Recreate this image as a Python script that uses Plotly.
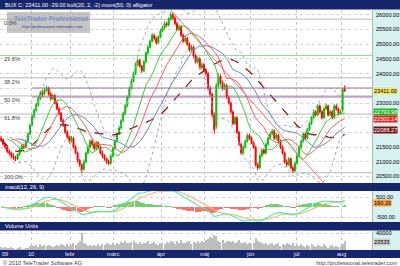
import numpy as np
import pandas as pd
import plotly.graph_objects as go

W, H = 400, 266

# ---------------- data ----------------
month_labels = ["09", "10", "febr", "márc", "ápr", "máj", "jún", "júl", "aug"]
month_days = [15, 19, 21, 23, 21, 22, 22, 22, 2]

opens = [
    21800, 21750, 21600, 21500, 21350, 21300, 21200, 21150, 21100, 21250, 21400, 21550, 21500, 21700, 21950,
    22250, 22550, 22750, 22950, 23150, 23350, 23300, 23450, 23500, 23300, 23150, 23250, 23000, 22800, 22650, 22400, 22250, 22000, 21850,
    21700, 21800, 21500, 21300, 21050, 20900, 20750, 21000, 21300, 21500, 21700, 21600, 21450, 21650, 21500, 21300, 21200, 21100, 21000, 20950, 21200,
    21450, 21700, 21950, 22150, 22400, 22650, 22900, 23200, 23500, 23750, 24000, 24300, 24450, 24250, 24100, 24400, 24700, 24900, 25100, 25300, 25200, 25050, 25250,
    25450, 25550, 25700, 25650, 25850, 26000, 25900, 25700, 25500, 25600, 25300, 25100, 25200, 25000, 24800, 24900, 24600, 24400, 24500, 24200, 24300,
    24100, 24000, 23500, 23300, 22600, 22200, 23600, 23900, 23700, 23500, 23600, 23200, 23000, 22700, 22300, 22500, 22000, 21600, 21300, 21500, 21700, 21900,
    21800, 21650, 21500, 20900, 20800, 21200, 21400, 21300, 21600, 21800, 21950, 22050, 21800, 21900, 21700, 21500, 21300, 21000, 20900, 21100, 20800, 20700,
    20950, 21200, 21500, 21700, 21950, 21800, 22100, 22300, 22500, 22700, 22600, 22900, 22700, 22500, 22800, 22900, 22600, 22700, 22500, 22900, 22800, 22650,
    22750, 23500,
]
highs = [
    21880, 21800, 21650, 21560, 21420, 21350, 21280, 21200, 21300, 21460, 21600, 21620, 21760, 22000, 22300,
    22620, 22820, 23020, 23250, 23420, 23450, 23520, 23600, 23560, 23380, 23320, 23300, 23080, 22880, 22700, 22480, 22300, 22080, 21900,
    21880, 21850, 21560, 21350, 21100, 20950, 21080, 21350, 21580, 21760, 21780, 21650, 21720, 21700, 21550, 21380, 21260, 21150, 21080, 21260, 21500,
    21760, 22000, 22220, 22460, 22700, 22980, 23260, 23560, 23820, 24080, 24380, 24520, 24500, 24300, 24460, 24760, 24980, 25160, 25380, 25360, 25260, 25300, 25520,
    25620, 25780, 25760, 25920, 26100, 26060, 25950, 25760, 25680, 25650, 25360, 25280, 25250, 25060, 24980, 24950, 24660, 24580, 24560, 24380, 24360,
    24180, 24060, 23580, 23350, 22680, 23680, 24000, 23980, 23760, 23680, 23650, 23260, 23050, 22750, 22560, 22550, 22060, 21650, 21560, 21760, 21960, 21960,
    21860, 21700, 21550, 20980, 21260, 21460, 21460, 21660, 21860, 22020, 22120, 22100, 21980, 21950, 21760, 21560, 21350, 21080, 21160, 21150, 20880, 21020,
    21260, 21560, 21760, 22000, 22010, 22160, 22360, 22560, 22780, 22760, 22960, 22950, 22760, 22860, 22980, 22950, 22780, 22760, 22960, 22960, 22850, 22780,
    23500, 23600,
]
lows = [
    21680, 21550, 21420, 21300, 21220, 21120, 21060, 21020, 21050, 21200, 21350, 21430, 21460, 21650, 21900,
    22200, 22480, 22700, 22880, 23100, 23200, 23250, 23380, 23250, 23080, 23100, 22950, 22750, 22580, 22350, 22180, 21950, 21780, 21620,
    21650, 21450, 21250, 20980, 20820, 20620, 20700, 20950, 21250, 21450, 21520, 21380, 21400, 21430, 21250, 21120, 21040, 20930, 20880, 20900, 21150,
    21400, 21650, 21900, 22100, 22350, 22600, 22850, 23150, 23450, 23700, 23950, 24250, 24200, 24020, 24050, 24350, 24650, 24850, 25050, 25120, 24980, 25000, 25200,
    25400, 25500, 25580, 25600, 25800, 25820, 25640, 25440, 25450, 25250, 25040, 25050, 24940, 24740, 24750, 24540, 24340, 24350, 24140, 24150, 24040,
    23920, 23420, 23220, 22520, 21950, 22120, 23520, 23640, 23420, 23440, 23140, 22940, 22640, 22240, 22240, 21940, 21540, 21240, 21250, 21450, 21650, 21740,
    21600, 21440, 20840, 20720, 20750, 21150, 21240, 21250, 21550, 21750, 21900, 21740, 21750, 21640, 21440, 21240, 20940, 20820, 20850, 20740, 20620, 20650,
    20900, 21150, 21450, 21650, 21740, 21750, 22050, 22250, 22450, 22540, 22550, 22640, 22440, 22450, 22750, 22540, 22550, 22440, 22450, 22740, 22580, 22600,
    22700, 23380,
]
closes = [
    21750, 21600, 21500, 21350, 21300, 21200, 21150, 21100, 21250, 21400, 21550, 21500, 21700, 21950, 22250,
    22550, 22750, 22950, 23150, 23350, 23300, 23450, 23500, 23300, 23150, 23250, 23000, 22800, 22650, 22400, 22250, 22000, 21850, 21700,
    21800, 21500, 21300, 21050, 20900, 20750, 21000, 21300, 21500, 21700, 21600, 21450, 21650, 21500, 21300, 21200, 21100, 21000, 20950, 21200, 21450,
    21700, 21950, 22150, 22400, 22650, 22900, 23200, 23500, 23750, 24000, 24300, 24450, 24250, 24100, 24400, 24700, 24900, 25100, 25300, 25200, 25050, 25250, 25450,
    25550, 25700, 25650, 25850, 26000, 25900, 25700, 25500, 25600, 25300, 25100, 25200, 25000, 24800, 24900, 24600, 24400, 24500, 24200, 24300, 24100,
    24000, 23500, 23300, 22600, 22100, 23600, 23900, 23700, 23500, 23600, 23200, 23000, 22700, 22300, 22500, 22000, 21600, 21300, 21500, 21700, 21900, 21800,
    21650, 21500, 20900, 20800, 21200, 21400, 21300, 21600, 21800, 21950, 22050, 21800, 21900, 21700, 21500, 21300, 21000, 20900, 21100, 20800, 20700, 20950,
    21200, 21500, 21700, 21950, 21800, 22100, 22300, 22500, 22700, 22600, 22900, 22700, 22500, 22800, 22900, 22600, 22700, 22500, 22900, 22800, 22650, 22700,
    23450, 23411,
]
volumes = [
    8000, 6000, 9000, 7000, 5000, 8000, 6000, 4000, 6000, 8000, 4000, 3000, 5000, 7000, 10000,
    12000, 10000, 14000, 9000, 15000, 11000, 13000, 10000, 14000, 12000, 8000, 11000, 14000, 11000, 16000, 13000, 10000, 15000, 12000,
    14000, 17000, 13000, 19000, 22000, 42000, 18000, 15000, 12000, 14000, 10000, 13000, 11000, 15000, 12000, 16000, 14000, 18000, 15000, 13000, 17000,
    14000, 18000, 16000, 20000, 17000, 22000, 19000, 17000, 21000, 24000, 18000, 16000, 20000, 15000, 17000, 19000, 22000, 16000, 18000, 20000, 16000, 14000, 17000,
    19000, 15000, 21000, 18000, 23000, 20000, 16000, 22000, 18000, 25000, 19000, 17000, 21000, 23000, 16000, 20000, 18000, 22000, 19000, 24000, 21000,
    25000, 28000, 33000, 30000, 38000, 35000, 24000, 21000, 26000, 19000, 22000, 24000, 20000, 23000, 18000, 21000, 26000, 19000, 17000, 20000, 15000, 18000,
    16000, 19000, 30000, 24000, 20000, 17000, 15000, 19000, 14000, 16000, 18000, 13000, 15000, 17000, 12000, 16000, 14000, 19000, 15000, 13000, 17000, 11000,
    13000, 10000, 15000, 12000, 9000, 14000, 11000, 16000, 10000, 8000, 13000, 12000, 9000, 15000, 11000, 7000, 10000, 14000, 8000, 12000, 9000, 11000,
    15000, 23535,
]

price_ticks = [20500, 21000, 21500, 22000, 22500, 23000, 23500, 24000, 24500, 25000, 25500, 26000]
hidden_ticks = [22000, 22500, 23500]          # covered by the value boxes in the original
fib_high = 25850
fib_low = 20630
fib_levels = [0.0, 23.6, 38.2, 50.0, 61.8, 100.0]
purple_levels = [23510, 23204]
purple_start_day = 15.5
trend_days = [82.4, 156.4]
trend_prices = [26170, 20280]

title_text = "BUX C: 23411.00 -39.00 boll(20, 2, -2) movs(50, 0) alligator"
last_price = 23411.00
lips_last = 22793.98
teeth_last = 22502.14
sma_last = 22088.27
macd_last = 190.20
vol_last = 23535

# ---------------- derived indicators ----------------
n = min(len(opens), len(highs), len(lows), len(closes), len(volumes))
o = pd.Series(opens[:n], dtype=float)
hi = pd.Series(highs[:n], dtype=float)
lo = pd.Series(lows[:n], dtype=float)
c = pd.Series(closes[:n], dtype=float)
v = pd.Series(volumes[:n], dtype=float)
x = np.arange(n) + 0.5

sma50 = c.rolling(50, min_periods=1).mean()
mid = c.rolling(20, min_periods=5).mean()
sd = c.rolling(20, min_periods=5).std(ddof=0)
bb_up = mid + 2 * sd
bb_lo = mid - 2 * sd
med = (hi + lo) / 2
jaw = med.ewm(alpha=1 / 13, adjust=False).mean().shift(8)
teeth = med.ewm(alpha=1 / 8, adjust=False).mean().shift(5)
lips = med.ewm(alpha=1 / 5, adjust=False).mean().shift(3)
ema12 = c.ewm(span=12, adjust=False).mean()
ema26 = c.ewm(span=26, adjust=False).mean()
macd = ema12 - ema26
signal = macd.ewm(span=9, adjust=False).mean()
hist = macd - signal

month_starts = list(np.cumsum([0] + month_days[:-1]))

# ---------------- geometry ----------------
PLOT_R = 372
XMAX = PLOT_R / 2.07
def fy(px):
    return 1 - px / H
def fx(px):
    return px / W

def price_at(ypx):
    return 23000 + (103 - ypx) * 34.0

MAIN = (9.5, 183)
MACD = (191, 222)
VOL = (230.5, 250)
NAVY = "#17256b"
CYAN = "#d7f1f1"
FONT = "Liberation Sans"
FS = 5.6

fig = go.Figure()

# Bollinger
fig.add_trace(go.Scatter(x=x, y=bb_up, mode="lines", line=dict(color="#a4a4b4", width=1, dash="dot"), xaxis="x", yaxis="y"))
fig.add_trace(go.Scatter(x=x, y=bb_lo, mode="lines", line=dict(color="#a4a4b4", width=1, dash="dot"), xaxis="x", yaxis="y"))
# SMA 50
fig.add_trace(go.Scatter(x=x, y=sma50, mode="lines", line=dict(color="#8c1c1c", width=1.3, dash="dash"), xaxis="x", yaxis="y"))
# Alligator
fig.add_trace(go.Scatter(x=x, y=jaw, mode="lines", line=dict(color="#6a88cc", width=1), xaxis="x", yaxis="y"))
fig.add_trace(go.Scatter(x=x, y=teeth, mode="lines", line=dict(color="#f06060", width=1), xaxis="x", yaxis="y"))
fig.add_trace(go.Scatter(x=x, y=lips, mode="lines", line=dict(color="#40c840", width=1), xaxis="x", yaxis="y"))
# trend line
fig.add_trace(go.Scatter(x=trend_days, y=trend_prices, mode="lines", line=dict(color="#f07070", width=1), xaxis="x", yaxis="y"))
# candles
fig.add_trace(go.Candlestick(
    x=x, open=o, high=hi, low=lo, close=c, xaxis="x", yaxis="y",
    increasing=dict(line=dict(color="#00c000", width=1), fillcolor="#00c000"),
    decreasing=dict(line=dict(color="#ff0000", width=1), fillcolor="#ff0000"),
    whiskerwidth=0,
))
# MACD
hcols = ["#70d070" if val >= 0 else "#ff7070" for val in hist]
fig.add_trace(go.Bar(x=x, y=hist, marker=dict(color=hcols, line=dict(width=0)), width=0.55, xaxis="x2", yaxis="y2"))
fig.add_trace(go.Scatter(x=x, y=signal, mode="lines", line=dict(color="#f4b870", width=1.1), xaxis="x2", yaxis="y2"))
fig.add_trace(go.Scatter(x=x, y=macd, mode="lines", line=dict(color="#50e8b0", width=1.1), xaxis="x2", yaxis="y2"))
# Volume
fig.add_trace(go.Bar(x=x, y=v, marker=dict(color="#bdbdbd", line=dict(width=0)), width=0.5, xaxis="x3", yaxis="y3"))

shapes = []
def rect(x0, y0, x1, y1, color, layer="below", line=None):
    shapes.append(dict(type="rect", xref="paper", yref="paper", x0=fx(x0), x1=fx(x1), y0=fy(y1), y1=fy(y0),
                       fillcolor=color, line=line or dict(width=0), layer=layer))

# navy bars
rect(0, 0, W, 9.5, NAVY, layer="above")
rect(0, 183, W, 191, NAVY, layer="above")
rect(0, 222, W, 230.5, NAVY, layer="above")
rect(0, 250, W, 258, NAVY, layer="above")
# cyan axis regions
for (a, b) in [MAIN, MACD, VOL]:
    rect(PLOT_R + 0.5, a, W, b, CYAN)
    shapes.append(dict(type="line", xref="paper", yref="paper", x0=fx(PLOT_R + 0.5), x1=fx(PLOT_R + 0.5),
                       y0=fy(b), y1=fy(a), line=dict(color="#a8b8b8", width=1)))

# fib lines
ann = []
rng = fib_high - fib_low
for lv in fib_levels:
    p = fib_high - rng * lv / 100
    col = "#90d890" if lv == 23.6 else "#b8b8b8"
    shapes.append(dict(type="line", xref="paper", yref="y", x0=0, x1=fx(PLOT_R), y0=p, y1=p,
                       line=dict(color=col, width=1), layer="below"))
    ann.append(dict(xref="paper", yref="y", x=fx(1.5), y=p, yshift=-4, text=f"{lv:.1f}%", showarrow=False,
                    xanchor="left", yanchor="middle", font=dict(family=FONT, size=FS, color="#444444")))
for p in purple_levels:
    shapes.append(dict(type="line", xref="x", yref="y", x0=purple_start_day, x1=XMAX, y0=p, y1=p,
                       line=dict(color="#a070a8", width=1), layer="above"))

# watermark
rect(7, 12, 90, 33, "rgba(150,150,150,0.55)", layer="above")
ann.append(dict(xref="paper", yref="paper", x=fx(51), y=fy(18), text="<b>TeleTrader Professional</b>", showarrow=False,
                font=dict(family=FONT, size=6.6, color="#7f93c8"), xanchor="center", yanchor="middle"))
ann.append(dict(xref="paper", yref="paper", x=fx(52), y=fy(27), text="http://professional.teletrader.com", showarrow=False,
                font=dict(family=FONT, size=4.2, color="#2a3a8a"), xanchor="center", yanchor="middle"))

# titles
ann.append(dict(xref="paper", yref="paper", x=fx(3), y=fy(4.8), text=title_text, showarrow=False,
                font=dict(family=FONT, size=FS, color="white"), xanchor="left", yanchor="middle"))
ann.append(dict(xref="paper", yref="paper", x=fx(3), y=fy(187), text="macd(12, 26, 9)", showarrow=False,
                font=dict(family=FONT, size=FS, color="white"), xanchor="left", yanchor="middle"))
ann.append(dict(xref="paper", yref="paper", x=fx(3), y=fy(226.3), text="Volume Units", showarrow=False,
                font=dict(family=FONT, size=FS, color="white"), xanchor="left", yanchor="middle"))
# month labels
for lab, ms in zip(month_labels, month_starts):
    xp = max(ms * 2.07, 5)
    ann.append(dict(xref="paper", yref="paper", x=fx(xp), y=fy(254), text=lab, showarrow=False,
                    font=dict(family=FONT, size=FS, color="#e8e8ff"), xanchor="center", yanchor="middle"))
# footer
ann.append(dict(xref="paper", yref="paper", x=fx(1), y=fy(262.5), text="© 2010 TeleTrader Software AG", showarrow=False,
                font=dict(family=FONT, size=FS, color="#404040"), xanchor="left", yanchor="middle"))
ann.append(dict(xref="paper", yref="paper", x=fx(399), y=fy(262.5), text="http://professional.teletrader.com", showarrow=False,
                font=dict(family=FONT, size=FS, color="#404040"), xanchor="right", yanchor="middle"))

# value boxes
def vbox(yref, val, text, bg, fg, shift=0):
    ann.append(dict(xref="paper", yref=yref, x=fx(PLOT_R + 1), y=val, yshift=shift, text=text, showarrow=False,
                    xanchor="left", yanchor="middle", bgcolor=bg, borderpad=0,
                    font=dict(family=FONT, size=FS, color=fg)))
vbox("y", last_price, f"{last_price:.2f}", "#f2e46a", "#000000")
vbox("y", lips_last, f"{lips_last:.2f}", "#22b822", "#ffffff", shift=-3)
vbox("y", teeth_last, f"{teeth_last:.2f}", "#ee2222", "#ffffff", shift=-1.5)
vbox("y", sma_last, f"{sma_last:.2f}", "#7a1414", "#ffffff")
vbox("y2", macd_last, f"{macd_last:.2f}", "#f4a040", "#000000")
vbox("y3", vol_last, f"{vol_last}", "#d0d0d0", "#000000", shift=-2)

xcommon = dict(range=[0, XMAX], domain=[0, fx(PLOT_R)], showticklabels=False, ticks="",
               tickvals=month_starts, showgrid=True, gridcolor="#c4c4c4", griddash="dot", gridwidth=1,
               zeroline=False, showline=False, fixedrange=True)
ycommon = dict(side="right", ticks="", showline=False, zeroline=False, showgrid=True,
               gridcolor="#d4d4d4", griddash="dot", gridwidth=1,
               tickfont=dict(family=FONT, size=FS, color="#000000"), ticklabelstandoff=3)

fig.update_layout(
    width=W, height=H, margin=dict(l=0, r=0, t=0, b=0),
    paper_bgcolor="white", plot_bgcolor="white", showlegend=False, bargap=0,
    xaxis=dict(**xcommon, anchor="y", rangeslider=dict(visible=False)),
    xaxis2=dict(**xcommon, anchor="y2", matches="x"),
    xaxis3=dict(**xcommon, anchor="y3", matches="x"),
    yaxis=dict(**ycommon, anchor="x", domain=[fy(MAIN[1]), fy(MAIN[0])], range=[price_at(MAIN[1]), price_at(MAIN[0])],
               tickvals=price_ticks,
               ticktext=["" if t in hidden_ticks else f"{t:.2f}" for t in price_ticks]),
    yaxis2=dict(**ycommon, anchor="x2", domain=[fy(MACD[1]), fy(MACD[0])], range=[-750, 800],
                tickvals=[500, -500], ticktext=["500.00", "-500.00"]),
    yaxis3=dict(**ycommon, anchor="x3", domain=[fy(VOL[1]), fy(VOL[0])], range=[0, 47000],
                tickvals=[40000], ticktext=["40000"]),
    shapes=shapes, annotations=ann,
)

fig.write_html("out.html")
